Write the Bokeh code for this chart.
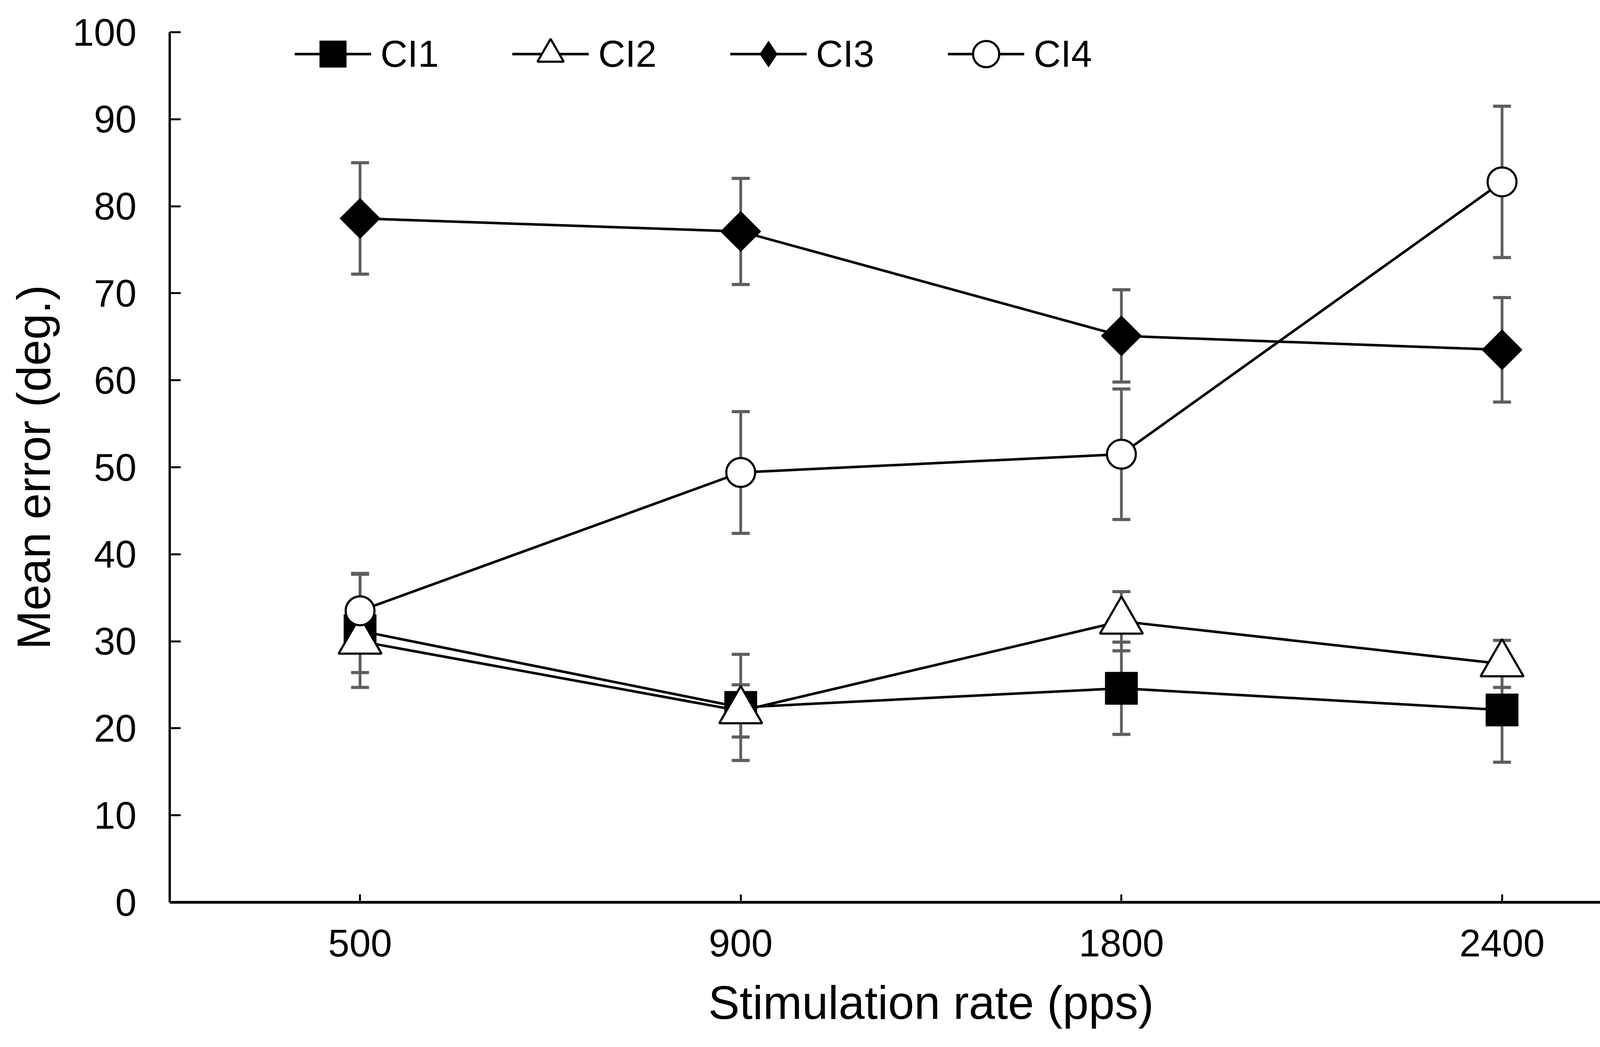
import numpy as np
from bokeh.plotting import figure
from bokeh.models import (ColumnDataSource, FactorRange, Range1d, FixedTicker, Whisker,
                          TeeHead, Legend, LegendItem)
from bokeh.embed import file_html
from bokeh.resources import INLINE

# ---------------- data ----------------
rates = ["500", "900", "1800", "2400"]
ci1 = [31.2, 22.4, 24.6, 22.1]
ci1_err = [6.5, 6.1, 5.3, 6.0]
ci2 = [30.0, 22.0, 32.3, 27.4]
ci2_err = [3.6, 3.0, 3.4, 2.7]
ci3 = [78.6, 77.1, 65.1, 63.5]
ci3_err = [6.4, 6.1, 5.3, 6.0]
ci4 = [33.5, 49.4, 51.5, 82.8]
ci4_err = [4.3, 7.0, 7.5, 8.7]
series_names = ["CI1", "CI2", "CI3", "CI4"]
y_ticks = [0, 10, 20, 30, 40, 50, 60, 70, 80, 90, 100]
x_title = "Stimulation rate (pps)"
y_title = "Mean error (deg.)"

FONT = "Liberation Sans"
ERR_COLOR = "#5e5e5e"

p = figure(width=4375, height=2665,
           x_range=FactorRange(factors=rates, range_padding=0),
           y_range=Range1d(0, 100),
           output_backend="svg", toolbar_location=None,
           min_border_left=434, min_border_right=43,
           min_border_top=82, min_border_bottom=355)
p.outline_line_color = None
p.grid.visible = False
p.background_fill_color = "white"
p.border_fill_color = "white"

# axes
p.yaxis.ticker = FixedTicker(ticks=y_ticks)
p.yaxis.major_tick_in = 28
p.yaxis.major_tick_out = 0
p.yaxis.minor_tick_in = 0
p.yaxis.minor_tick_out = 0
p.yaxis.major_tick_line_width = 5
p.yaxis.axis_line_width = 6
p.yaxis.major_label_standoff = 85
p.yaxis.axis_label_standoff = 30
p.xaxis.major_tick_in = 20
p.xaxis.major_tick_out = 0
p.xaxis.major_tick_line_width = 5
p.xaxis.axis_line_width = 7
p.xaxis.major_label_standoff = 70
p.xaxis.axis_label_standoff = 48
for ax in (p.xaxis, p.yaxis):
    ax.major_label_text_font = FONT
    ax.major_label_text_font_size = "98px"
    ax.major_label_text_color = "black"
    ax.axis_line_color = "black"
    ax.major_tick_line_color = "black"
    ax.axis_label_text_font = FONT
    ax.axis_label_text_font_size = "120px"
    ax.axis_label_text_font_style = "normal"
    ax.axis_label_text_color = "black"
p.xaxis.axis_label = x_title
p.yaxis.axis_label = y_title

values = [ci1, ci2, ci3, ci4]
errors = [ci1_err, ci2_err, ci3_err, ci4_err]
sources = []
for vals, errs in zip(values, errors):
    src = ColumnDataSource(dict(
        x=rates, y=vals,
        upper=[v + e for v, e in zip(vals, errs)],
        lower=[v - e for v, e in zip(vals, errs)],
    ))
    sources.append(src)

# error bars (behind everything)
for src in sources:
    w = Whisker(source=src, base="x", upper="upper", lower="lower", dimension="height",
                line_color=ERR_COLOR, line_width=7,
                upper_head=TeeHead(size=46, line_color=ERR_COLOR, line_width=8),
                lower_head=TeeHead(size=46, line_color=ERR_COLOR, line_width=8),
                level="underlay")
    p.add_layout(w)

LW = 6.5
styles = [
    dict(marker="square", size=82, fill_color="black", line_color="black", line_width=2, angle=0.0),
    dict(marker="triangle", size=110, fill_color="white", line_color="black", line_width=5.5, angle=0.0),
    dict(marker="square", size=72, fill_color="black", line_color="black", line_width=2, angle=np.pi / 4),
    dict(marker="circle", size=74, fill_color="white", line_color="black", line_width=5.5, angle=0.0),
]

line_rs = []
for src in sources:
    line_rs.append(p.line(x="x", y="y", source=src, line_color="black", line_width=LW))
marker_rs = []
for src, st in zip(sources, styles):
    marker_rs.append(p.scatter(x="x", y="y", source=src, **st))

# legend symbol for CI3: the rotated square shows as a diamond in the legend
proxy_src = ColumnDataSource(dict(x=rates, y=[np.nan] * len(rates)))
proxy3 = p.scatter(x="x", y="y", source=proxy_src, marker="diamond", size=10,
                   fill_color="black", line_color="black", line_width=1)

legend_renderers = [
    [line_rs[0], marker_rs[0]],
    [line_rs[1], marker_rs[1]],
    [line_rs[2], proxy3],
    [line_rs[3], marker_rs[3]],
]
items = [LegendItem(label=name, renderers=rs) for name, rs in zip(series_names, legend_renderers)]

legend = Legend(items=items, orientation="horizontal", location=(320, 2088),
                glyph_width=196, glyph_height=168, label_standoff=24, spacing=188,
                padding=0, margin=0, border_line_color=None, background_fill_alpha=0,
                label_text_font=FONT, label_text_font_size="96px", label_text_color="black")
p.add_layout(legend, "center")

open("out.html", "w").write(file_html(p, INLINE))
